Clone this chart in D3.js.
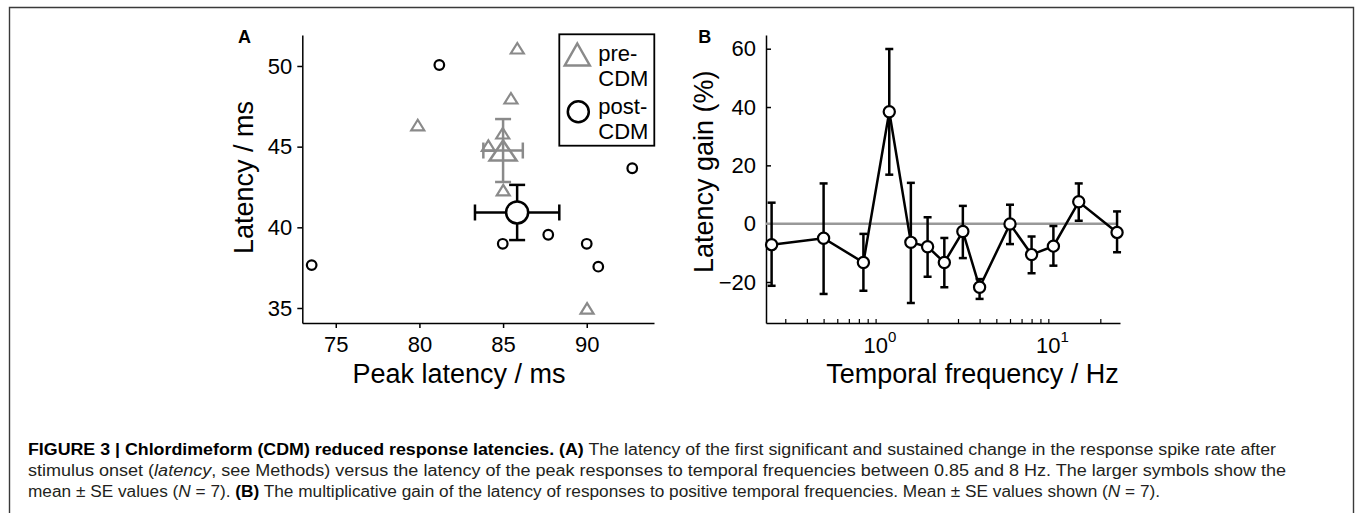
<!DOCTYPE html>
<html><head><meta charset="utf-8">
<script src="https://cdn.jsdelivr.net/npm/d3@7"></script>
<style>
html,body{margin:0;padding:0;background:#fff;}
svg{display:block;}
</style></head>
<body>
<svg id="chart" width="1355" height="513"></svg>
<script>
// ---- Panel A data ----
const preX  = [85.85, 85.47, 79.9, 84.98, 84.12, 85.01, 90.02];
const preY  = [51.1, 48.0, 46.34, 45.83, 45.06, 42.31, 34.98];
const postX = [81.19, 92.72, 84.98, 87.7, 90.0, 90.69, 73.56];
const postY = [50.06, 43.66, 38.98, 39.54, 38.98, 37.56, 37.66];
const groupNames = ["pre-CDM", "post-CDM"];
const meanX = [85.0, 85.84];
const seX   = [1.18, 2.52];
const meanY = [44.76, 40.92];
const seY   = [1.95, 1.71];
const xTicksA = [75, 80, 85, 90];
const yTicksA = [35, 40, 45, 50];

// ---- Panel B data ----
const freq = [0.25, 0.5, 0.85, 1.2, 1.6, 2, 2.5, 3.2, 4, 6, 8, 10.7, 15, 25];
const gain = [-7.2, -5.0, -13.3, 38.4, -6.4, -7.9, -13.3, -2.7, -21.8, -0.1, -10.6, -7.7, 7.5, -3.0];
const gainSE = [14.25, 18.95, 9.75, 21.55, 20.6, 10.2, 8.45, 8.95, 3.4, 6.75, 6.3, 6.8, 6.4, 7.0];
const gainMid = [-7.05, -5.15, -13.25, 38.35, -6.6, -8.0, -13.35, -2.85, -22.4, -0.25, -10.7, -7.6, 7.4, -2.8];
const yTicksB = [-20, 0, 20, 40, 60];
const xMajorB = [1, 10];
const xMinorB = [0.3,0.4,0.5,0.6,0.7,0.8,0.9,2,3,4,5,6,7,8,9,20];

const GRAY = "#8a8a8a";
const FONT = "'Liberation Sans', Arial, Helvetica, sans-serif";
const svg = d3.select("#chart");

// frame
svg.append("path").attr("d","M9.5,513 L9.5,7.5 L1353.5,7.5 L1353.5,513")
  .attr("fill","none").attr("stroke","#3a3a3a").attr("stroke-width",1.4);

function triPath(w,h){ return `M0,${-h/2} L${w/2},${h/2} L${-w/2},${h/2} Z`; }

// ================= Panel A =================
const xA = d3.scaleLinear().domain([73.0, 94.02]).range([302.3, 654]);
const yA = d3.scaleLinear().domain([34.07, 51.92]).range([323, 35]);

const axA = svg.append("g").attr("font-family",FONT);
const yAxA = axA.append("g").attr("transform","translate(302.3,0)")
  .call(d3.axisLeft(yA).tickValues(yTicksA).tickSize(5).tickSizeOuter(0).tickPadding(5));
const xAxA = axA.append("g").attr("transform","translate(0,323)")
  .call(d3.axisBottom(xA).tickValues(xTicksA).tickSize(5).tickSizeOuter(0).tickPadding(8));
[yAxA,xAxA].forEach(g=>{
  g.selectAll("path,line").attr("stroke","#000").attr("stroke-width",1.5);
  g.selectAll("text").attr("font-size",22).attr("fill","#000").attr("font-family",FONT);
});

svg.append("text").attr("transform","translate(253.3,177.5) rotate(-90)")
  .attr("text-anchor","middle").attr("font-family",FONT).attr("font-size",27).text("Latency / ms");
svg.append("text").attr("x",459).attr("y",383.3).attr("text-anchor","middle")
  .attr("font-family",FONT).attr("font-size",27).text("Peak latency / ms");
svg.append("text").attr("x",238).attr("y",42.7).attr("font-family",FONT)
  .attr("font-weight","bold").attr("font-size",18).text("A");

// individual points
const pre = preX.map((x,i)=>({x, y:preY[i]}));
const post = postX.map((x,i)=>({x, y:postY[i]}));
svg.append("g").selectAll("path").data(pre).join("path")
  .attr("d",triPath(13,10.5)).attr("transform",d=>`translate(${xA(d.x)},${yA(d.y)})`)
  .attr("fill","#fff").attr("stroke",GRAY).attr("stroke-width",2.2);
svg.append("g").selectAll("circle").data(post).join("circle")
  .attr("cx",d=>xA(d.x)).attr("cy",d=>yA(d.y)).attr("r",4.8)
  .attr("fill","#fff").attr("stroke","#000").attr("stroke-width",2.2);

// mean ± SE
const means = groupNames.map((n,i)=>({n, x:meanX[i], y:meanY[i], sx:seX[i], sy:seY[i], c: i===0?GRAY:"#000"}));
means.forEach((m,i)=>{
  const g = svg.append("g").attr("stroke",m.c).attr("stroke-width",2.5).attr("fill","none");
  const cx = xA(m.x), cy = yA(m.y), cap = 8;
  const y1 = yA(m.y+m.sy), y2 = yA(m.y-m.sy), x1 = xA(m.x-m.sx), x2 = xA(m.x+m.sx);
  g.append("line").attr("x1",cx).attr("x2",cx).attr("y1",y1).attr("y2",y2);
  g.append("line").attr("x1",cx-cap).attr("x2",cx+cap).attr("y1",y1).attr("y2",y1);
  g.append("line").attr("x1",cx-cap).attr("x2",cx+cap).attr("y1",y2).attr("y2",y2);
  g.append("line").attr("x1",x1).attr("x2",x2).attr("y1",cy).attr("y2",cy);
  g.append("line").attr("x1",x1).attr("x2",x1).attr("y1",cy-cap).attr("y2",cy+cap);
  g.append("line").attr("x1",x2).attr("x2",x2).attr("y1",cy-cap).attr("y2",cy+cap);
  if(i===0){
    svg.append("path").attr("d",triPath(27,20)).attr("transform",`translate(${cx},${cy})`)
      .attr("fill","none").attr("stroke",m.c).attr("stroke-width",2.5);
  } else {
    svg.append("circle").attr("cx",cx).attr("cy",cy).attr("r",11)
      .attr("fill","#fff").attr("stroke",m.c).attr("stroke-width",2.5);
  }
});

// legend
const leg = svg.append("g").attr("font-family",FONT).attr("font-size",22);
leg.append("rect").attr("x",559.3).attr("y",34.3).attr("width",95).attr("height",111.4)
  .attr("fill","#fff").attr("stroke","#000").attr("stroke-width",1.8);
leg.append("path").attr("d",triPath(25,22)).attr("transform","translate(577.3,54.5)")
  .attr("fill","none").attr("stroke",GRAY).attr("stroke-width",2.5);
leg.append("circle").attr("cx",578.3).attr("cy",111.7).attr("r",10.5)
  .attr("fill","none").attr("stroke","#000").attr("stroke-width",2.5);
const legLines = [["pre-",61],["CDM",86],["post-",114],["CDM",139.3]];
leg.selectAll("text.l").data(legLines).join("text").attr("class","l")
  .attr("x",598.3).attr("y",d=>d[1]).text(d=>d[0]);

// ================= Panel B =================
const xB = d3.scaleLog().domain([0.232, 26]).range([766, 1120]);
const yB = d3.scaleLinear().domain([-34.06, 64.7]).range([323, 35]);

const yAxB = svg.append("g").attr("transform","translate(766,0)")
  .call(d3.axisLeft(yB).tickValues(yTicksB).tickSize(-5).tickSizeOuter(0).tickPadding(10));
const xAxB = svg.append("g").attr("transform","translate(0,323)")
  .call(d3.axisBottom(xB).tickValues(xMajorB.concat(xMinorB)).tickFormat("").tickSize(-4).tickSizeOuter(0));
[yAxB,xAxB].forEach(g=>{
  g.selectAll("path,line").attr("stroke","#000").attr("stroke-width",1.5);
  g.selectAll("text").attr("font-size",22).attr("fill","#000").attr("font-family",FONT);
});
xAxB.selectAll(".tick line").attr("stroke-width",1.2);

// log tick labels 10^n
const majLab = svg.append("g").attr("font-family",FONT).attr("font-size",22);
xMajorB.forEach(v=>{
  const t = majLab.append("text").attr("x",xB(v)-12.2).attr("y",352.7);
  t.append("tspan").text("10");
  t.append("tspan").attr("dy",-10.5).attr("font-size",15).text(String(Math.round(Math.log10(v))));
});

svg.append("text").attr("transform","translate(713.3,171.7) rotate(-90)")
  .attr("text-anchor","middle").attr("font-family",FONT).attr("font-size",27).text("Latency gain (%)");
svg.append("text").attr("x",972.5).attr("y",383.3).attr("text-anchor","middle")
  .attr("font-family",FONT).attr("font-size",27).text("Temporal frequency / Hz");
svg.append("text").attr("x",698.3).attr("y",42.7).attr("font-family",FONT)
  .attr("font-weight","bold").attr("font-size",18).text("B");

// zero line
svg.append("line").attr("x1",766).attr("x2",xB(freq[freq.length-1])).attr("y1",yB(0)).attr("y2",yB(0))
  .attr("stroke","#999").attr("stroke-width",2.6);

const bData = freq.map((f,i)=>({f, g:gain[i], m:gainMid[i], se:gainSE[i]}));
// error bars
const eb = svg.append("g").attr("stroke","#000").attr("stroke-width",2.5).attr("fill","none");
bData.forEach(d=>{
  const x = xB(d.f), y1 = yB(d.m+d.se), y2 = yB(d.m-d.se), cap=4;
  eb.append("line").attr("x1",x).attr("x2",x).attr("y1",y1).attr("y2",y2);
  eb.append("line").attr("x1",x-cap).attr("x2",x+cap).attr("y1",y1).attr("y2",y1);
  eb.append("line").attr("x1",x-cap).attr("x2",x+cap).attr("y1",y2).attr("y2",y2);
});
svg.append("path").datum(bData)
  .attr("d",d3.line().x(d=>xB(d.f)).y(d=>yB(d.g)))
  .attr("fill","none").attr("stroke","#000").attr("stroke-width",2.5).attr("stroke-linejoin","miter");
svg.append("g").selectAll("circle").data(bData).join("circle")
  .attr("cx",d=>xB(d.f)).attr("cy",d=>yB(d.g)).attr("r",5.6)
  .attr("fill","#fff").attr("stroke","#000").attr("stroke-width",2.2);

// ================= Caption =================
const CAPFONT = "'Liberation Sans', Arial, sans-serif";
const captionLines = [
  {y:454.5, x1:1276, segs:[["b","FIGURE 3 | Chlordimeform (CDM) reduced response latencies. (A)"],["n"," The latency of the first significant and sustained change in the response spike rate after"]]},
  {y:476, x1:1286, segs:[["n","stimulus onset ("],["i","latency"],["n",", see Methods) versus the latency of the peak responses to temporal frequencies between 0.85 and 8 Hz. The larger symbols show the"]]},
  {y:497.3, x1:1160, segs:[["n","mean \u00b1 SE values ("],["i","N"],["n"," = 7). "],["b","(B)"],["n"," The multiplicative gain of the latency of responses to positive temporal frequencies. Mean \u00b1 SE values shown ("],["i","N"],["n"," = 7)."]]}
];
const cap = svg.append("g").attr("font-family",CAPFONT).attr("font-size",16).attr("fill","#231f20");
captionLines.forEach(L=>{
  const t = cap.append("text").attr("x",28).attr("y",L.y)
    .attr("textLength",L.x1-28).attr("lengthAdjust","spacingAndGlyphs");
  L.segs.forEach(s=>{
    const ts = t.append("tspan").text(s[1]);
    if(s[0]==="b") ts.attr("font-weight","bold").attr("fill","#000");
    if(s[0]==="i") ts.attr("font-style","italic");
  });
});
</script>
</body></html>
